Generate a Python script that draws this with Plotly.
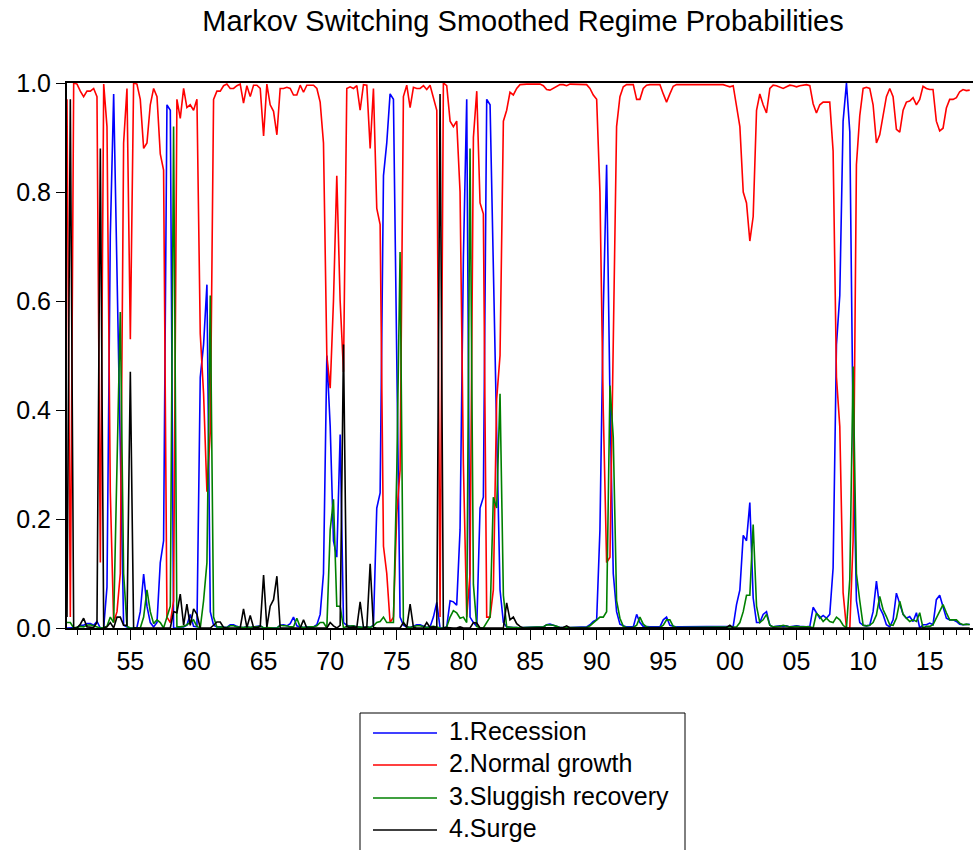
import pandas as pd
import plotly.graph_objects as go

# ---------------- data (quarterly, first observation 1950Q2) ----------------
start_quarter = "1950-04-01"

recession = [
    0, 0, 0,                                   # 1950 Q2-Q4
    .001, .005, .005, .008,                    # 1951
    .008, .005, .012, 0,                       # 1952
    .001, .075, .72, .98,                      # 1953
    .65, .30, .005, .002,                      # 1954
    0, 0, .001, .03,                           # 1955
    .099, .04, .01, .002,                      # 1956
    .01, .12, .16, .96,                        # 1957
    .95, 0, 0, .002,                           # 1958
    .002, .005, .025, .003,                    # 1959
    .002, .46, .52, .63,                       # 1960
    .03, .005, .002, .002,                     # 1961
    .002, .001, .006, .006,                    # 1962
    .003, .001, .001, .002,                    # 1963
    .001, .002, .002, .004,                    # 1964
    0, .001, 0, 0,                             # 1965
    0, .005, .006, .004,                       # 1966
    .008, .02, .004, .002,                     # 1967
    .001, .002, .002, .002,                    # 1968
    .006, .025, .10, .50,                      # 1969
    .37, .16, .13, .355,                       # 1970
    .01, .005, .003, .004,                     # 1971
    .002, .001, .001, .002,                    # 1972
    .001, .005, .22, .248,                     # 1973
    .83, .89, .98, .97,                        # 1974
    .50, .02, .005, .002,                      # 1975
    .001, .004, .006, .006,                    # 1976
    .003, .001, .002, .02,                     # 1977
    .047, 0, 0, .002,                          # 1978
    .05, .048, .042, .18,                      # 1979
    .68, .97, .02, .01,                        # 1980
    .003, .22, .24, .97,                       # 1981
    .96, .69, .36, .07,                        # 1982
    .01, .002, .001, .001,                     # 1983
    .001, 0, .001, .001,                       # 1984
    .001, .001, .001, .001,                    # 1985
    .002, .006, .007, .005,                    # 1986
    .003, .001, .001, 0,                       # 1987
    .001, .001, .001, .001,                    # 1988
    .001, .002, .006, .012,                    # 1989
    .015, .18, .58, .85,                       # 1990
    .42, .10, .03, .007,                       # 1991
    .004, .002, .002, .002,                    # 1992
    .025, .01, .003, .002,                     # 1993
    .002, .002, .002, .002,                    # 1994
    .015, .02, .005, .003,                     # 1995
    .002, .002, .002, .002,                    # 1996
    .002, .002, .002, .002,                    # 1997
    .002, .002, .002, .002,                    # 1998
    .002, .002, .002, .002,                    # 1999
    .003, .003, .043, .07,                     # 2000
    .17, .16, .23, .055,                       # 2001
    .01, .01, .025, .03,                       # 2002
    .005, .002, .003, .004,                    # 2003
    .003, .004, .002, .003,                    # 2004
    .004, .003, .002, .002,                    # 2005
    .003, .038, .028, .018,                    # 2006
    .023, .018, .025, .11,                     # 2007
    .52, .61, .93, 1.0,                        # 2008
    .91, .36, .05, .01,                        # 2009
    .005, .004, .005, .03,                     # 2010
    .086, .037, .025, .006,                    # 2011
    .002, .015, .064, .043,                    # 2012
    .025, .018, .021, .012,                    # 2013
    .028, 0, .006, .006,                       # 2014
    .009, .006, .052, .06,                     # 2015
    .04, .018, .015, .015,                     # 2016
    .012, .007, .006, .007,                    # 2017
    .007,                                      # 2018 Q1
]

normal_growth = [
    .97, .02, 1.0,
    .998, .985, .975, .985,
    .985, .99, .975, .12,
    .998, .92, .25, .01,
    .03, .10, .89, .99,
    .53, 1.0, .998, .97,
    .88, .89, .96, .99,
    .975, .87, .84, .02,
    .01, .05, .97, .935,
    .99, .955, .96, .95,
    .97, .54, .43, .25,
    .36, .97, .985, .985,
    .995, .998, .99, .99,
    .995, .998, .963, .995,
    .975, .996, .996, .99,
    .903, .998, .96, .948,
    .905, .99, .99, .992,
    .99, .978, .978, .996,
    .983, .996, .996, .996,
    .99, .965, .89, .50,
    .44, .60, .83, .60,
    .47, .99, .993, .99,
    .995, .95, .997, .996,
    .88, .99, .77, .74,
    .15, .10, .01, .02,
    .21, .29, .975, .996,
    .955, .992, .99, .99,
    .995, .988, .996, .975,
    .95, .02, 1.0, .995,
    .93, .92, .93, .80,
    .30, .02, .10, .90,
    .985, .78, .76, .02,
    .02, .07, .42, .50,
    .93, .95, .983, .978,
    .99, .997, .998, .998,
    .998, .998, .998, .998,
    .995, .988, .987, .99,
    .993, .997, .997, .995,
    .998, .998, .998, .998,
    .998, .997, .99, .978,
    .97, .80, .40, .12,
    .13, .55, .92, .975,
    .993, .997, .997, .997,
    .97, .97, .99, .996,
    .997, .997, .997, .997,
    .98, .965, .98, .994,
    .997, .997, .997, .997,
    .996, .997, .997, .996,
    .997, .997, .996, .997,
    .997, .996, .997, .995,
    .993, .995, .955, .92,
    .80, .78, .71, .755,
    .95, .98, .96, .945,
    .99, .996, .995, .993,
    .99, .993, .996, .995,
    .993, .995, .996, .997,
    .995, .962, .945, .96,
    .965, .965, .965, .875,
    .46, .37, .065, 0,
    0, .16, .85, .94,
    .99, .992, .99, .96,
    .89, .905, .94, .975,
    .99, .975, .915, .91,
    .95, .965, .967, .973,
    .96, .97, .994, .99,
    .988, .988, .93, .912,
    .917, .954, .97, .97,
    .973, .984, .988, .986,
    .987,
]

sluggish_recovery = [
    .01, .01, 0,
    .001, .003, .002, .005,
    .006, .004, .003, 0,
    .001, .003, .02, .01,
    .30, .58, .10, .003,
    0, 0, .001, 0,
    .02, .07, .03, .008,
    .015, .01, 0, .02,
    .04, .92, .002, .002,
    .003, .006, .01, .015,
    .003, 0, .05, .12,
    .61, .02, .002, .002,
    .002, .001, .004, .004,
    .002, .001, .001, .002,
    .001, .002, .002, .004,
    0, .001, 0, 0,
    0, .005, .004, .004,
    .002, .002, .018, .002,
    .001, .002, .002, .002,
    .004, .01, .01, 0,
    .18, .236, .04, .04,
    0, .003, .003, .004,
    .002, .001, .001, .002,
    .001, .004, .01, .012,
    .02, .01, .01, .01,
    .29, .69, .01, .002,
    .001, .003, .004, .004,
    .002, .001, .002, .003,
    .002, 0, 0, .002,
    .02, .032, .028, .018,
    .02, .01, .88, .08,
    .003, 0, 0, .01,
    .02, .24, .22, .43,
    .06, .002, .001, .001,
    .001, 0, .001, .001,
    .001, .001, .001, .001,
    .002, .006, .006, .005,
    .003, .001, .001, .001,
    .001, .001, .001, .001,
    .001, .001, .004, .009,
    .015, .02, .02, .03,
    .445, .35, .05, .018,
    .003, .001, .001, .001,
    .005, .02, .007, .002,
    .001, .001, .001, .001,
    .005, .015, .015, .003,
    .001, .001, .001, .001,
    .001, .001, .001, .001,
    .001, .001, .001, .001,
    .001, .001, .001, .001,
    .002, .002, .002, .01,
    .03, .06, .06, .19,
    .04, .01, .015, .025,
    .005, .002, .002, .003,
    .005, .003, .002, .002,
    .003, .002, .002, .001,
    .002, 0, .027, .021,
    .012, .018, .012, .01,
    .02, .015, .005, 0,
    .09, .48, .10, .05,
    .005, .004, .005, .01,
    .024, .058, .034, .021,
    .006, .005, .018, .049,
    .025, .018, .012, .015,
    .012, .028, 0, .003,
    .003, .006, .018, .028,
    .043, .028, .015, .015,
    .015, .009, .006, .007,
    .006,
]

surge = [
    .02, .97, 0,
    0, .007, .018, .002,
    .001, .001, .01, .88,
    0, .002, .01, 0,
    .02, .02, .005, .005,
    .47, 0, 0, 0,
    .001, 0, 0, 0,
    0, 0, 0, 0,
    0, .03, .028, .062,
    .005, .044, .005, .035,
    .025, 0, 0, 0,
    0, .005, .011, .011,
    .001, 0, 0, 0,
    0, 0, .035, .001,
    .023, .001, .001, .002,
    .097, .001, .04, .052,
    .095, 0, 0, 0,
    0, 0, 0, 0,
    .015, 0, 0, 0,
    0, 0, 0, 0,
    .01, .004, 0, .005,
    .52, .002, .001, .002,
    .001, .048, .001, .001,
    .118, .001, 0, 0,
    0, 0, 0, 0,
    0, 0, .01, .001,
    .044, .001, 0, 0,
    0, .01, .001, .002,
    .001, .98, 0, .001,
    0, 0, 0, .002,
    0, 0, 0, .01,
    .009, 0, 0, 0,
    0, 0, 0, 0,
    0, .046, .015, .02,
    .008, .003, 0, 0,
    0, 0, 0, 0,
    0, 0, 0, 0,
    .001, .001, .001, .004,
    0, 0, 0, 0,
    0, 0, 0, 0,
    0, 0, 0, 0,
    0, 0, 0, 0,
    0, 0, 0, 0,
    0, 0, 0, 0,
    0, 0, 0, 0,
    0, 0, 0, 0,
    0, 0, 0, 0,
    0, 0, 0, 0,
    0, 0, 0, 0,
    0, 0, 0, .001,
    .005, 0, 0, 0,
    0, 0, 0, 0,
    0, 0, 0, 0,
    0, 0, 0, 0,
    0, 0, 0, 0,
    0, 0, 0, 0,
    0, 0, 0, 0,
    0, 0, 0, 0,
    0, 0, 0, 0,
    0, 0, 0, 0,
    0, 0, 0, 0,
    0, 0, 0, 0,
    0, 0, 0, 0,
    0, 0, 0, 0,
    0, 0, 0, 0,
    0, 0, 0, 0,
    0, 0, 0, 0,
    0, 0, 0, 0,
    0,
]

series_names = ["1.Recession", "2.Normal growth", "3.Sluggish recovery", "4.Surge"]
series_colors = ["#0000FF", "#FF0000", "#008000", "#000000"]
title_text = "Markov Switching Smoothed Regime Probabilities"
y_tick_values = [0.0, 0.2, 0.4, 0.6, 0.8, 1.0]

# ---------------- figure ----------------
W, H = 973, 850
ML, MR, MT, MB = 67, 0, 83, 222
PW, PH = W - ML - MR, H - MT - MB
FONT = "Liberation Sans, Arial, sans-serif"


def px2x(px):
    return (px - ML) / PW


def px2y(py):
    return (H - MB - py) / PH


all_series = [recession, normal_growth, sluggish_recovery, surge]
dates = pd.date_range(start_quarter, periods=len(recession), freq="QS")

fig = go.Figure()
for vals, name, col in zip(all_series, series_names, series_colors):
    fig.add_trace(go.Scatter(x=dates, y=vals, mode="lines", name=name,
                             line=dict(color=col, width=1.6)))

# legend box drawn by hand (EViews style, long line samples)
shapes = [dict(type="rect", xref="paper", yref="paper",
               x0=px2x(360), x1=px2x(685), y0=px2y(870), y1=px2y(713),
               line=dict(color="black", width=1), fillcolor="white", layer="above")]
annotations = []
row_y = [731, 763, 796, 828]
for ry, name, col in zip(row_y, series_names, series_colors):
    shapes.append(dict(type="line", xref="paper", yref="paper",
                       x0=px2x(373), x1=px2x(437), y0=px2y(ry + 2), y1=px2y(ry + 2),
                       line=dict(color=col, width=1.6), layer="above"))
    annotations.append(dict(text=name, xref="paper", yref="paper",
                            x=px2x(447), y=px2y(ry), xanchor="left", yanchor="middle",
                            showarrow=False, font=dict(family=FONT, size=25, color="black")))

fig.update_layout(
    width=W, height=H, autosize=False,
    margin=dict(l=ML, r=MR, t=MT, b=MB, pad=0),
    paper_bgcolor="white", plot_bgcolor="white",
    showlegend=False,
    font=dict(family=FONT, size=25, color="black"),
    title=dict(text=title_text, xref="container", yref="container",
               x=523 / W, xanchor="center", y=1 - 21 / H, yanchor="middle",
               font=dict(family=FONT, size=29, color="black")),
    shapes=shapes, annotations=annotations,
)

fig.update_xaxes(
    type="date", range=["1950-04-01", "2018-04-01"],
    tick0="1955-01-01", dtick="M60", tickformat="%y",
    ticks="outside", ticklen=10, tickwidth=1, tickcolor="black",
    minor=dict(tick0="1951-01-01", dtick="M12", ticks="outside", ticklen=5,
               tickwidth=1, tickcolor="black", showgrid=False),
    showgrid=False, zeroline=False,
    showline=True, linecolor="black", linewidth=2, mirror=True,
    tickfont=dict(family=FONT, size=25, color="black"),
)
fig.update_yaxes(
    range=[0, 1], tickmode="array", tickvals=y_tick_values,
    tickformat=".1f", ticks="outside", ticklen=9, tickwidth=1, tickcolor="black",
    showgrid=False, zeroline=False,
    showline=True, linecolor="black", linewidth=2,
    tickfont=dict(family=FONT, size=25, color="black"),
)

fig.write_html("out.html")
